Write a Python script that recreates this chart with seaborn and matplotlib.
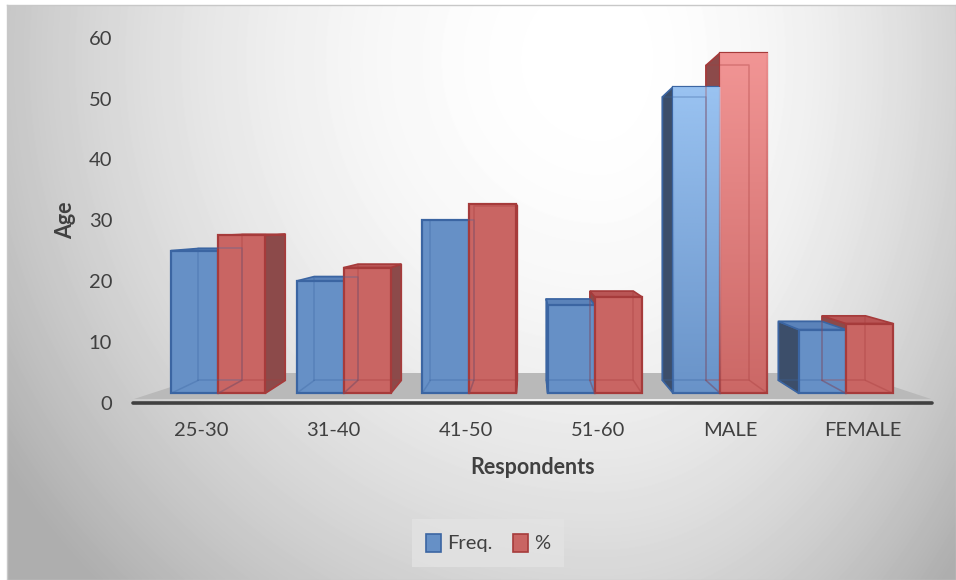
import numpy as np
import pandas as pd
import matplotlib
matplotlib.use("Agg")
import matplotlib.pyplot as plt
from matplotlib.patches import Polygon, Patch
import seaborn as sns

# ---- data -------------------------------------------------------------
categories = ["25-30", "31-40", "41-50", "51-60", "MALE", "FEMALE"]
freq = [25, 20, 30, 16, 52, 12]
percent = [27.5, 22.2, 32.6, 17.4, 57.6, 13.0]
series_names = ["Freq.", "%"]
y_ticks = [0, 10, 20, 30, 40, 50, 60]

df = pd.DataFrame({
    "category": categories * 2,
    "series": [series_names[0]] * len(categories) + [series_names[1]] * len(categories),
    "value": freq + percent,
})

# ---- styling ----------------------------------------------------------
FACE = {"Freq.": "#6690c6", "%": "#c96563"}
EDGE = {"Freq.": "#3b65a2", "%": "#a63b3b"}
SIDE = {"Freq.": "#3c4e6a", "%": "#8c4a4a"}
TOP = {"Freq.": "#5b83ba", "%": "#b95555"}
TINT = {"Freq.": (0.64, 0.80, 0.98), "%": (0.98, 0.62, 0.62)}
TEXT = "#404040"

sns.set_theme(style="white")
plt.rcParams["font.family"] = ["Lato", "DejaVu Sans"]

W, H = 956, 580
fig = plt.figure(figsize=(W / 100, H / 100), dpi=100, facecolor="white")

# soft radial background panel with a thin frame
bg = fig.add_axes([7 / W, 0, (W - 7) / W, (H - 5) / H], zorder=-10)
yy, xx = np.mgrid[5:H, 7:W].astype(float)
dx = np.where(xx < 600, (xx - 600) / 620, (xx - 600) / 420)
dy = (yy - 60) / 640
dist = np.clip(np.hypot(dx, dy), 0, 1.15)
shade = 1 - 0.24 * dist ** 2.0
bg.imshow(shade, cmap="gray", vmin=0, vmax=1, extent=(0, 1, 0, 1),
          aspect="auto", origin="upper", interpolation="bilinear")
bg.set_xticks([])
bg.set_yticks([])
for s in bg.spines.values():
    s.set_color("#c8c8c8")
    s.set_linewidth(1)

# main plotting area
ax = fig.add_axes([133 / W, (H - 402.5) / H, 799 / W, 364.5 / H])
ax.patch.set_alpha(0)

sns.barplot(data=df, x="category", y="value", hue="series", palette=FACE,
            width=0.75, saturation=1, errorbar=None, legend=False, ax=ax)

ax.set_xlim(-0.677, 5.685)
ax.set_ylim(0, 60)

# 3-D look: floor slab, extruded bars seen in perspective
BASE = 1.5          # floor thickness in value units
VP = np.array([530.0, H - 222.0])   # vanishing point (display px)
K = 0.076           # depth of a bar
inv = ax.transData.inverted()


def img_to_data(pts):
    return inv.transform([(x, H - y) for x, y in pts])


floor = Polygon(img_to_data([(134, 399), (931, 399), (852, 373), (214, 373)]),
                closed=True, facecolor="#b9b9b9", edgecolor="none", zorder=1)
ax.add_patch(floor)

for container, name in zip(ax.containers, series_names):
    for i, bar in enumerate(container):
        x0, w, val = bar.get_x(), bar.get_width(), bar.get_height()
        bar.set_y(BASE)
        bar.set_height(val - BASE)
        bar.set_facecolor(FACE[name])
        bar.set_edgecolor(EDGE[name])
        bar.set_linewidth(1.6)
        bar.set_zorder(3)

        front = ax.transData.transform([(x0, BASE), (x0 + w, BASE),
                                        (x0 + w, val), (x0, val)])
        back = front + K * (VP - front)
        cx = front[:, 0].mean()

        if cx < VP[0]:
            side = [front[1], back[1], back[2], front[2]]
        else:
            side = [front[0], back[0], back[3], front[3]]
        ax.add_patch(Polygon(inv.transform(side), closed=True,
                             facecolor=SIDE[name], edgecolor=EDGE[name],
                             linewidth=1.2, zorder=2.5))
        if front[2, 1] < VP[1]:
            top = [front[3], front[2], back[2], back[3]]
            ax.add_patch(Polygon(inv.transform(top), closed=True,
                                 facecolor=TOP[name], edgecolor=EDGE[name],
                                 linewidth=1.2, zorder=2.6))

        # lighting on the gender bars
        if categories[i] == "MALE":
            grad = np.zeros((100, 1, 4))
            grad[..., 0], grad[..., 1], grad[..., 2] = TINT[name]
            grad[:, 0, 3] = np.linspace(0.85, 0.05, 100)
            im = ax.imshow(grad, extent=(x0, x0 + w, BASE, val), aspect="auto",
                           origin="upper", zorder=3.1, interpolation="bilinear")
            im.set_clip_path(bar)

        # hidden edges showing faintly through the translucent face
        inner = dict(color=EDGE[name], alpha=0.35, linewidth=1.1, zorder=3.2)
        b = inv.transform(back)
        f = inv.transform(front)
        ax.plot([b[0, 0], b[1, 0], b[2, 0], b[3, 0], b[0, 0]],
                [b[0, 1], b[1, 1], b[2, 1], b[3, 1], b[0, 1]], **inner)
        for j in range(2):
            ax.plot([f[j, 0], b[j, 0]], [f[j, 1], b[j, 1]], **inner)

ax.set_xlim(-0.677, 5.685)
ax.set_ylim(0, 60)

# axes, ticks and labels
label_pos = [2.5 + (i - 2.5) * 1.054 for i in range(len(categories))]
ax.set_xticks(label_pos, categories)
ax.set_yticks(y_ticks)
ax.tick_params(axis="x", length=0, pad=14, labelsize=14.5, labelcolor=TEXT)
ax.tick_params(axis="y", length=0, pad=15, labelsize=14.5, labelcolor=TEXT)
for s in ("left", "top", "right"):
    ax.spines[s].set_visible(False)
ax.spines["bottom"].set_color("#404040")
ax.spines["bottom"].set_linewidth(2.6)
ax.spines["bottom"].set_capstyle("round")
ax.grid(False)

ax.set_xlabel("Respondents", fontsize=15.5, fontweight="bold", color=TEXT)
ax.xaxis.set_label_coords(0.5, (402.5 - 468) / 364.5)
ax.xaxis.label.set_va("center")
ax.set_ylabel("Age", fontsize=15.5, fontweight="bold", color=TEXT)
ax.yaxis.set_label_coords((66 - 133) / 799, 0.5)
ax.yaxis.label.set_va("center")

handles = [Patch(facecolor=FACE[n], edgecolor=EDGE[n], linewidth=1.2) for n in series_names]
leg = fig.legend(handles, series_names, loc="center",
                 bbox_to_anchor=(488 / W, 1 - 543 / H), ncol=2, frameon=True,
                 facecolor="#e3e3e3", edgecolor="none", fancybox=False,
                 handlelength=0.75, handleheight=1.0, handletextpad=0.3,
                 columnspacing=1.0, fontsize=14.5, borderpad=0.7)
for t in leg.get_texts():
    t.set_color(TEXT)

fig.savefig("out.png", dpi=100)
